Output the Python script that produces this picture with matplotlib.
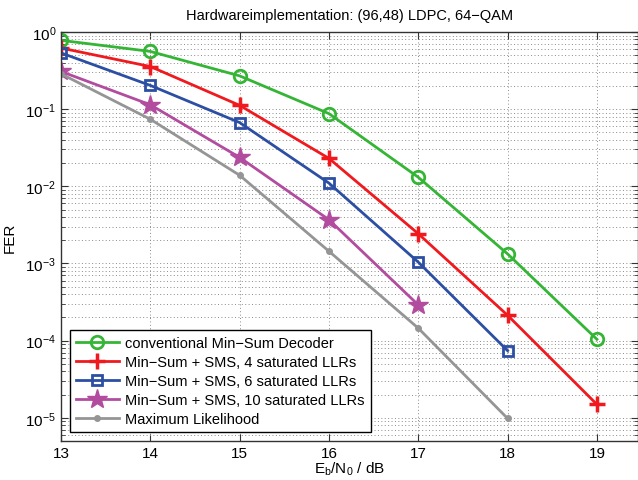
import matplotlib
matplotlib.use("Agg")
import matplotlib.pyplot as plt
from matplotlib.ticker import LogLocator, NullFormatter, FixedLocator

plt.rcParams['font.family'] = ['Liberation Sans', 'DejaVu Sans']
plt.rcParams['mathtext.fontset'] = 'custom'
plt.rcParams['mathtext.rm'] = 'Liberation Sans'
plt.rcParams['mathtext.it'] = 'Liberation Sans'

title = "Hardwareimplementation: (96,48) LDPC, 64\u2212QAM"
x_minsum = [13, 14, 15, 16, 17, 18, 19]
fer_minsum = [0.78, 0.56, 0.27, 0.0875, 0.0131, 1.33e-3, 1.04e-4]
x_sms4 = [13, 14, 15, 16, 17, 18, 19]
fer_sms4 = [0.62, 0.357, 0.112, 0.023, 2.43e-3, 2.13e-4, 1.49e-5]
x_sms6 = [13, 14, 15, 16, 17, 18]
fer_sms6 = [0.536, 0.203, 0.067, 0.011, 1.04e-3, 7.4e-5]
x_sms10 = [13, 14, 15, 16, 17]
fer_sms10 = [0.308, 0.114, 0.0237, 3.69e-3, 2.9e-4]
x_ml = [13, 14, 15, 16, 17, 18]
fer_ml = [0.287, 0.074, 0.0139, 1.44e-3, 1.45e-4, 9.8e-6]
labels = ["conventional Min\u2212Sum Decoder",
          "Min\u2212Sum + SMS, 4 saturated LLRs",
          "Min\u2212Sum + SMS, 6 saturated LLRs",
          "Min\u2212Sum + SMS, 10 saturated LLRs",
          "Maximum Likelihood"]
xticks = [13, 14, 15, 16, 17, 18, 19]

fig = plt.figure(figsize=(6.38, 4.81), dpi=100)
ax = fig.add_axes([61/638, 1-442/481, 1-61/638, (442-33)/481])

ax.plot(x_minsum, fer_minsum, '-o', color='#35b535', lw=2, ms=9, mfc='none', mew=2, label=labels[0])
ax.plot(x_sms4, fer_sms4, '-+', color='#f0191e', lw=2, ms=12, mew=2.5, label=labels[1])
ax.plot(x_sms6, fer_sms6, '-s', color='#2c4fa3', lw=2, ms=7, mfc='none', mew=2, label=labels[2])
ax.plot(x_sms10, fer_sms10, '-*', color='#b24c9f', lw=2, ms=15, label=labels[3])
ax.plot(x_ml, fer_ml, '-o', color='#959595', lw=2, ms=4, label=labels[4])

ax.set_yscale('log')
ax.set_xlim(13, 19.46)
ax.set_ylim(5e-6, 1)
ax.xaxis.set_major_locator(FixedLocator(xticks))
ax.yaxis.set_major_locator(LogLocator(base=10, numticks=10))
ax.yaxis.set_minor_locator(LogLocator(base=10, subs=range(2, 10), numticks=20))
ax.yaxis.set_minor_formatter(NullFormatter())
ax.tick_params(which='both', direction='in', labelsize=11, top=True, right=True, color='#333333')
ax.tick_params(which='major', length=5)
ax.tick_params(which='minor', length=3)
ax.grid(True, which='major', linestyle=(0, (1, 2.5)), color='#8a8a8a', lw=0.7)
ax.grid(True, which='minor', axis='y', linestyle=(0, (1, 2.5)), color='#8a8a8a', lw=0.7)
for s in ax.spines.values():
    s.set_linewidth(1.0)
    s.set_color('#333333')

ax.set_title(title, fontsize=10.5, pad=9)
ax.set_ylabel("FER", fontsize=11, labelpad=6)
ax.set_xlabel(r"E$_{\rm b}$/N$_{\rm 0}$ / dB", fontsize=11, labelpad=0)

leg = ax.legend(loc='lower left', fontsize=10.5, handlelength=3, borderaxespad=0.6,
                fancybox=False, framealpha=1, edgecolor='black', borderpad=0.4,
                labelspacing=0.35, handletextpad=0.4)
leg.get_frame().set_linewidth(1.0)

fig.savefig("out.png", dpi=100)
